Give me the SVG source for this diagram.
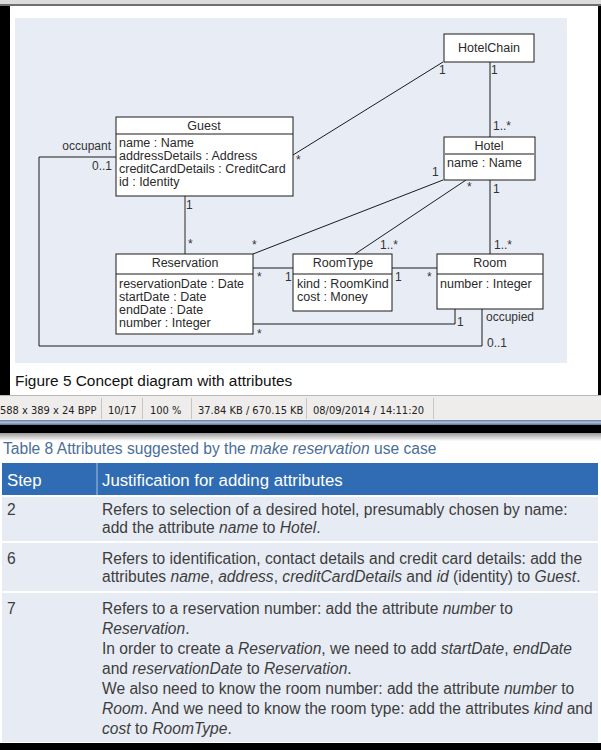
<svg xmlns="http://www.w3.org/2000/svg" width="601" height="750" viewBox="0 0 601 750">
<defs>
<linearGradient id="fade" x1="0" y1="0" x2="0" y2="1">
<stop offset="0" stop-color="#9a9a9a"/><stop offset="1" stop-color="#ffffff"/>
</linearGradient>
<linearGradient id="blueline" x1="0" y1="0" x2="0" y2="1">
<stop offset="0" stop-color="#6a7f9c"/><stop offset="0.5" stop-color="#a9bcd6"/><stop offset="1" stop-color="#5d718e"/>
</linearGradient>
</defs>
<style>
.box{fill:#ffffff;stroke:#1a1a1a;stroke-width:1}
.div{stroke:#1a1a1a;stroke-width:1}
.cn{fill:none;stroke:#1a1a1a;stroke-width:1}
.t{font-family:"Liberation Sans",Arial,sans-serif;font-size:12.5px;fill:#2a2a2a}
.ti{font-family:"Liberation Sans",Arial,sans-serif;font-size:12.5px;fill:#2a2a2a;text-anchor:middle}
.m{font-family:"Liberation Sans",Arial,sans-serif;font-size:12px;fill:#333}
.cap{font-family:"Liberation Sans",Arial,sans-serif;font-size:15.4px;fill:#111}
.st{font-family:"DejaVu Sans Condensed","DejaVu Sans",sans-serif;font-size:11px;fill:#222}
.tt{font-family:"Liberation Sans",Arial,sans-serif;font-size:15.6px;fill:#4a6e98}
.th{font-family:"Liberation Sans",Arial,sans-serif;font-size:16.8px;fill:#ffffff}
.tr{font-family:"Liberation Sans",Arial,sans-serif;font-size:15.6px;fill:#3d3d3d}
.i{font-style:italic}
</style>

<!-- window chrome -->
<rect x="0" y="0" width="601" height="750" fill="#ffffff"/>
<rect x="0" y="0" width="601" height="4" fill="#dcdcdc"/>
<rect x="0" y="4" width="601" height="2" fill="#707070"/>
<rect x="0" y="6" width="10" height="389" fill="#000000"/>
<rect x="598" y="6" width="3" height="389" fill="#000000"/>
<rect x="15" y="18" width="552" height="345" fill="#e8edf5"/>

<!-- connectors -->
<g id="connectors">
<path class="cn" d="M443,62 L293,155"/>
<path class="cn" d="M490,62 V137"/>
<path class="cn" d="M443,180 L253,254"/>
<path class="cn" d="M466,180 L355,254"/>
<path class="cn" d="M490,180 V254"/>
<path d="M185,196 V254" fill="none" stroke="#8a8a8a" stroke-width="2"/>
<path class="cn" d="M253,268 H293"/>
<path class="cn" d="M392,268 H437"/>
<path class="cn" d="M253,324 H455 V309"/>
<path class="cn" d="M116,157 H39 V346 H482 V309"/>
<text class="m" x="439" y="74">1</text>
<text class="m" x="296" y="164">*</text>
<text class="m" x="491" y="74">1</text>
<text class="m" x="493" y="130">1..*</text>
<text class="m" x="432" y="176">1</text>
<text class="m" x="467" y="191">*</text>
<text class="m" x="493" y="193">1</text>
<text class="m" x="380" y="249">1..*</text>
<text class="m" x="494" y="249">1..*</text>
<text class="m" x="252" y="249">*</text>
<text class="m" x="186" y="209">1</text>
<text class="m" x="188" y="248">*</text>
<text class="m" x="257" y="281">*</text>
<text class="m" x="285" y="281">1</text>
<text class="m" x="395" y="281">1</text>
<text class="m" x="427" y="281">*</text>
<text class="m" x="257" y="338">*</text>
<text class="m" x="457" y="326">1</text>
<text class="m" x="111" y="150" text-anchor="end">occupant</text>
<text class="m" x="112" y="170" text-anchor="end">0..1</text>
<text class="m" x="486" y="321">occupied</text>
<text class="m" x="487" y="347">0..1</text>
</g>

<!-- nodes -->
<g id="hotelchain">
<rect class="box" x="444" y="34" width="90" height="28"/>
<text class="ti" x="489" y="52">HotelChain</text>
</g>
<g id="hotel">
<rect class="box" x="444" y="137" width="91" height="43"/>
<line x1="444" y1="154" x2="535" y2="154" stroke="#8a8a8a" stroke-width="2"/>
<text class="ti" x="489" y="150">Hotel</text>
<text class="t" x="447" y="167">name : Name</text>
</g>
<g id="guest">
<rect class="box" x="116" y="117" width="177" height="79"/>
<line class="div" x1="116" y1="134" x2="293" y2="134"/>
<text class="ti" x="204" y="130">Guest</text>
<text class="t" x="119" y="147">name : Name</text>
<text class="t" x="119" y="160">addressDetails : Address</text>
<text class="t" x="119" y="173">creditCardDetails : CreditCard</text>
<text class="t" x="119" y="186">id : Identity</text>
</g>
<g id="reservation">
<rect class="box" x="116" y="254" width="137" height="80"/>
<line class="div" x1="116" y1="274" x2="253" y2="274"/>
<text class="ti" x="185" y="267">Reservation</text>
<text class="t" x="119" y="288">reservationDate : Date</text>
<text class="t" x="119" y="301">startDate : Date</text>
<text class="t" x="119" y="314">endDate : Date</text>
<text class="t" x="119" y="327">number : Integer</text>
</g>
<g id="roomtype">
<rect class="box" x="293" y="254" width="99" height="57"/>
<line class="div" x1="293" y1="274" x2="392" y2="274"/>
<text class="ti" x="343" y="267">RoomType</text>
<text class="t" x="297" y="288">kind : RoomKind</text>
<text class="t" x="297" y="301">cost : Money</text>
</g>
<g id="room">
<rect class="box" x="437" y="254" width="106" height="55"/>
<line class="div" x1="437" y1="274" x2="543" y2="274"/>
<text class="ti" x="490" y="267">Room</text>
<text class="t" x="440" y="288">number : Integer</text>
</g>

<!-- caption -->
<text class="cap" x="15" y="386">Figure 5  Concept diagram with attributes</text>

<!-- status bar -->
<rect x="0" y="395" width="601" height="1" fill="#b8b8b8"/>
<rect x="0" y="396" width="601" height="24" fill="#efedeb"/>
<g stroke="#c9c6c2" stroke-width="1">
<line x1="101.5" y1="398" x2="101.5" y2="419"/>
<line x1="142.5" y1="398" x2="142.5" y2="419"/>
<line x1="191.5" y1="398" x2="191.5" y2="419"/>
<line x1="306.5" y1="398" x2="306.5" y2="419"/>
<line x1="433.5" y1="398" x2="433.5" y2="419"/>
</g>
<text class="st" x="0" y="414">588 x 389 x 24 BPP</text>
<text class="st" x="108" y="414">10/17</text>
<text class="st" x="150" y="414">100 %</text>
<text class="st" x="198" y="414">37.84 KB / 670.15 KB</text>
<text class="st" x="313" y="414">08/09/2014 / 14:11:20</text>
<rect x="0" y="420" width="601" height="5" fill="url(#blueline)"/>
<rect x="0" y="425" width="601" height="8" fill="#000000"/>
<rect x="0" y="433" width="601" height="8" fill="url(#fade)"/>

<!-- table -->
<text class="tt" x="3" y="454">Table 8  Attributes suggested by the <tspan class="i">make reservation</tspan> use case</text>
<rect x="2" y="463" width="596" height="32" fill="#2f6cb3"/>
<line x1="97" y1="463" x2="97" y2="495" stroke="#a9c1e0" stroke-width="1"/>
<text class="th" x="7" y="486">Step</text>
<text class="th" x="102" y="486">Justification for adding attributes</text>

<rect x="2" y="497" width="596" height="44" fill="#e7ecf4"/>
<rect x="2" y="543" width="596" height="48" fill="#e7ecf4"/>
<rect x="2" y="593" width="596" height="149" fill="#e7ecf4"/>

<text class="tr" x="7" y="515">2</text>
<text class="tr" x="102" y="515">Refers to selection of a desired hotel, presumably chosen by name:</text>
<text class="tr" x="102" y="533">add the attribute <tspan class="i">name</tspan> to <tspan class="i">Hotel</tspan>.</text>

<text class="tr" x="7" y="564">6</text>
<text class="tr" x="102" y="564">Refers to identification, contact details and credit card details: add the</text>
<text class="tr" x="102" y="582">attributes <tspan class="i">name</tspan>, <tspan class="i">address</tspan>, <tspan class="i">creditCardDetails</tspan> and <tspan class="i">id</tspan> (identity) to <tspan class="i">Guest</tspan>.</text>

<text class="tr" x="7" y="614">7</text>
<text class="tr" x="102" y="614">Refers to a reservation number: add the attribute <tspan class="i">number</tspan> to</text>
<text class="tr" x="102" y="634"><tspan class="i">Reservation</tspan>.</text>
<text class="tr" x="102" y="654">In order to create a <tspan class="i">Reservation</tspan>, we need to add <tspan class="i">startDate</tspan>, <tspan class="i">endDate</tspan></text>
<text class="tr" x="102" y="674">and <tspan class="i">reservationDate</tspan> to <tspan class="i">Reservation</tspan>.</text>
<text class="tr" x="102" y="694">We also need to know the room number: add the attribute <tspan class="i">number</tspan> to</text>
<text class="tr" x="102" y="714"><tspan class="i">Room</tspan>. And we need to know the room type: add the attributes <tspan class="i">kind</tspan> and</text>
<text class="tr" x="102" y="734"><tspan class="i">cost</tspan> to <tspan class="i">RoomType</tspan>.</text>

<rect x="0" y="743" width="601" height="7" fill="#000000"/>
</svg>
